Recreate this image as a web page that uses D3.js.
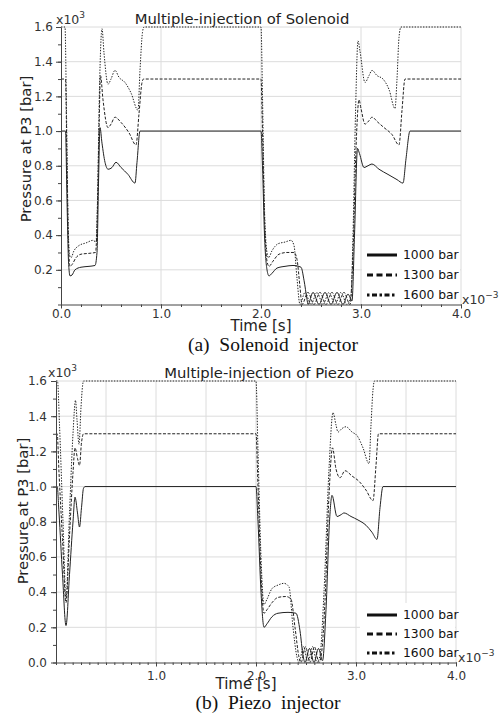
<!DOCTYPE html>
<meta charset="utf-8">
<style>
body { margin: 0; background: #fff; }
svg { display: block; font-family: "DejaVu Sans", sans-serif; }
.grid line { stroke: #dcdcdc; stroke-width: 1; }
.axis { color: #444; }
.axis text { font-size: 12px; fill: #333; font-family: "DejaVu Sans", sans-serif; }
.curve { fill: none; stroke: #222; stroke-width: 1; }
.title { font-size: 14.8px; fill: #222; }
.ytitle { font-size: 14.8px; fill: #222; }
.xtitle { font-size: 15px; fill: #222; }
.exp { font-size: 12.5px; fill: #333; }
.leg text { font-size: 12.3px; fill: #111; }
.cap { font-family: "Liberation Serif", serif; font-size: 19.5px; fill: #111; white-space: pre; }
</style>
<svg width="501" height="717"></svg>
<script src="https://d3js.org/d3.v7.min.js"></script>
<script>
// pressure (x10^3 bar) against time (x10^-3 s)
var sol1000 = [[0,1.0],[0.045,1.0],[0.06,0.6],[0.075,0.25],[0.09,0.165],[0.11,0.17],[0.14,0.2],[0.2,0.215],[0.28,0.22],[0.34,0.225],[0.36,0.3],[0.375,0.7],[0.39,1.02],[0.41,0.93],[0.44,0.82],[0.47,0.78],[0.51,0.79],[0.55,0.82],[0.6,0.79],[0.67,0.75],[0.74,0.70],[0.76,0.82],[0.79,1.0],
  [2.0,1.0],[2.015,0.8],[2.035,0.4],[2.06,0.2],[2.08,0.165],[2.11,0.18],[2.16,0.21],[2.24,0.22],[2.32,0.225],[2.4,0.215],[2.43,0.14],[2.46,0.03],[2.47,0.0],[2.52,0.07],[2.58,0.0],[2.64,0.07],[2.7,0.0],[2.76,0.07],[2.82,0.0],[2.87,0.06],[2.91,0.02],[2.935,0.4],[2.965,0.9],[2.985,0.87],[3.03,0.79],[3.07,0.8],[3.11,0.81],[3.18,0.78],[3.27,0.75],[3.36,0.72],[3.42,0.70],[3.45,0.84],[3.49,1.0],[4.0,1.0]];
var sol1300 = [[0,1.3],[0.045,1.3],[0.06,0.8],[0.075,0.35],[0.09,0.22],[0.11,0.23],[0.15,0.27],[0.2,0.29],[0.28,0.295],[0.345,0.30],[0.36,0.45],[0.38,1.0],[0.395,1.32],[0.42,1.18],[0.47,1.02],[0.5,1.04],[0.54,1.08],[0.6,1.05],[0.68,0.99],[0.75,0.92],[0.78,1.1],[0.81,1.28],[0.825,1.3],
  [2.0,1.3],[2.015,1.0],[2.035,0.5],[2.06,0.25],[2.08,0.22],[2.12,0.25],[2.18,0.29],[2.26,0.3],[2.33,0.3],[2.36,0.26],[2.39,0.1],[2.41,0.0],[2.47,0.07],[2.53,0.0],[2.59,0.07],[2.65,0.0],[2.71,0.07],[2.77,0.0],[2.83,0.07],[2.89,0.0],[2.92,0.3],[2.95,0.9],[2.98,1.18],[3.0,1.13],[3.04,1.04],[3.08,1.06],[3.11,1.08],[3.17,1.05],[3.23,1.02],[3.31,0.98],[3.38,0.92],[3.41,1.12],[3.44,1.3],[4.0,1.3]];
var sol1600 = [[0,1.6],[0.04,1.6],[0.055,1.1],[0.07,0.5],[0.085,0.29],[0.1,0.27],[0.13,0.31],[0.18,0.34],[0.25,0.355],[0.32,0.37],[0.35,0.36],[0.365,0.6],[0.385,1.25],[0.41,1.59],[0.43,1.45],[0.47,1.27],[0.5,1.3],[0.54,1.35],[0.58,1.31],[0.64,1.28],[0.7,1.22],[0.77,1.12],[0.79,1.35],[0.815,1.57],[0.83,1.6],
  [2.0,1.6],[2.015,1.2],[2.035,0.55],[2.06,0.3],[2.075,0.27],[2.11,0.31],[2.17,0.35],[2.24,0.36],[2.3,0.37],[2.33,0.34],[2.36,0.15],[2.39,0.0],[2.44,0.07],[2.5,0.0],[2.56,0.07],[2.62,0.0],[2.68,0.07],[2.74,0.0],[2.8,0.07],[2.86,0.0],[2.9,0.05],[2.92,0.4],[2.945,1.1],[2.97,1.52],[2.99,1.46],[3.04,1.28],[3.08,1.32],[3.11,1.35],[3.16,1.32],[3.22,1.3],[3.28,1.24],[3.34,1.13],[3.36,1.3],[3.38,1.54],[3.4,1.6],[4.0,1.6]];

var pz1000 = [[0,1.0],[0.012,1.0],[0.03,0.85],[0.065,0.5],[0.1,0.21],[0.135,0.5],[0.17,0.8],[0.19,0.94],[0.215,0.85],[0.235,0.77],[0.255,0.88],[0.275,0.99],[0.29,1.0],
  [2.0,1.0],[2.02,0.8],[2.05,0.4],[2.08,0.2],[2.11,0.22],[2.16,0.26],[2.22,0.28],[2.32,0.285],[2.4,0.28],[2.44,0.18],[2.47,0.04],[2.49,0.0],[2.535,0.08],[2.58,0.0],[2.625,0.08],[2.665,0.01],[2.7,0.3],[2.735,0.8],[2.76,0.95],[2.81,0.83],[2.85,0.84],[2.88,0.85],[2.95,0.83],[3.02,0.81],[3.1,0.78],[3.16,0.74],[3.21,0.70],[3.24,0.88],[3.27,1.0],[4.0,1.0]];
var pz1300 = [[0,1.3],[0.012,1.3],[0.03,1.08],[0.065,0.7],[0.1,0.34],[0.135,0.72],[0.17,1.08],[0.19,1.22],[0.215,1.16],[0.235,1.12],[0.255,1.25],[0.275,1.3],
  [2.0,1.3],[2.02,1.0],[2.05,0.5],[2.08,0.28],[2.11,0.3],[2.16,0.34],[2.22,0.37],[2.3,0.375],[2.35,0.36],[2.39,0.2],[2.43,0.03],[2.45,0.0],[2.495,0.09],[2.54,0.0],[2.585,0.09],[2.63,0.0],[2.655,0.05],[2.69,0.35],[2.73,0.95],[2.765,1.22],[2.8,1.1],[2.84,1.05],[2.89,1.09],[2.96,1.06],[3.03,1.03],[3.1,0.98],[3.17,0.92],[3.2,1.12],[3.225,1.3],[4.0,1.3]];
var pz1600 = [[0,1.6],[0.015,1.6],[0.035,1.35],[0.07,0.8],[0.1,0.36],[0.135,0.85],[0.17,1.3],[0.195,1.49],[0.21,1.38],[0.23,1.24],[0.25,1.45],[0.265,1.57],[0.275,1.6],
  [2.0,1.6],[2.02,1.2],[2.05,0.6],[2.08,0.33],[2.11,0.36],[2.16,0.42],[2.22,0.44],[2.28,0.45],[2.33,0.43],[2.37,0.2],[2.41,0.03],[2.43,0.0],[2.475,0.09],[2.52,0.0],[2.565,0.09],[2.61,0.0],[2.64,0.04],[2.68,0.4],[2.73,1.1],[2.77,1.42],[2.8,1.35],[2.82,1.31],[2.86,1.33],[2.9,1.34],[2.96,1.31],[3.01,1.29],[3.07,1.22],[3.13,1.13],[3.15,1.35],[3.17,1.55],[3.185,1.6],[4.0,1.6]];

var seriesNames = ["1000 bar", "1300 bar", "1600 bar"];
var solXTicks = [0, 1, 2, 3, 4];
var solYTicks = [0.2, 0.4, 0.6, 0.8, 1.0, 1.2, 1.4, 1.6];
var pzXTicks = [1, 2, 3, 4];
var pzYTicks = [0, 0.2, 0.4, 0.6, 0.8, 1.0, 1.2, 1.4, 1.6];
var yGridVals = [0.2, 0.4, 0.6, 0.8, 1.0, 1.2, 1.4, 1.6];
var solXGrid = [1, 2, 3, 4];
var pzXGrid = [0.5, 1, 1.5, 2, 2.5, 3, 3.5, 4];

var curveDash = [null, "3,1.6", "1.4,1.4"];
var legendDash = [null, "6,3.5", "2.5,2.5,5,2.5"];

var svg = d3.select("svg");

var panels = [
  {data: [sol1000, sol1300, sol1600], left: 61, right: 461, top: 27, bottom: 304.5,
   xTicks: solXTicks, yTicks: solYTicks, xGrid: solXGrid, xMinor: d3.range(0, 4.001, 0.2), xPad: 1, yPad: 3,
   title: "Multiple-injection of Solenoid", titleX: 242, titleY: 24,
   expX: 56, expY: 24, yTitleX: 31, yTitleY: 149, xExpX: 462, xExpY: 304,
   xTitleX: 261, xTitleY: 331, cap: "(a)  Solenoid  injector", capX: 273, capY: 351,
   legX: 367, legY: [255, 275, 295], legBox: [362, 242, 98, 61]},
  {data: [pz1000, pz1300, pz1600], left: 56, right: 456, top: 381, bottom: 662.5,
   xTicks: pzXTicks, yTicks: pzYTicks, xGrid: pzXGrid, xMinor: d3.range(0, 4.001, 1 / 12), xPad: 5, yPad: 4,
   title: "Multiple-injection of Piezo", titleX: 259, titleY: 378,
   expX: 48, expY: 377, yTitleX: 28, yTitleY: 511, xExpX: 458, xExpY: 662,
   xTitleX: 246, xTitleY: 689, cap: "(b)  Piezo  injector", capX: 268, capY: 709,
   legX: 367, legY: [615, 634, 653], legBox: [360, 603, 95, 58]}
];

panels.forEach(function(p) {
  var x = d3.scaleLinear().domain([0, 4]).range([p.left, p.right]),
      y = d3.scaleLinear().domain([0, 1.6]).range([p.bottom, p.top]);
  var g = svg.append("g");

  var grid = g.append("g").attr("class", "grid");
  grid.selectAll(".h").data(yGridVals).enter().append("line")
      .attr("x1", p.left).attr("x2", p.right)
      .attr("y1", function(d) { return y(d); }).attr("y2", function(d) { return y(d); });
  grid.selectAll(".v").data(p.xGrid).enter().append("line")
      .attr("y1", p.top).attr("y2", p.bottom)
      .attr("x1", function(d) { return x(d); }).attr("x2", function(d) { return x(d); });

  var line = d3.line()
      .x(function(d) { return x(d[0]); })
      .y(function(d) { return y(d[1]); })
      .curve(d3.curveMonotoneX);

  g.selectAll(".curve").data(p.data).enter().append("path")
      .attr("class", "curve")
      .attr("d", line)
      .attr("stroke-dasharray", function(d, i) { return curveDash[i]; });

  // minor ticks
  g.append("g").attr("class", "axis")
      .attr("transform", "translate(0," + p.bottom + ")")
      .call(d3.axisBottom(x).tickValues(p.xMinor).tickFormat("").tickSize(2.5).tickSizeOuter(0))
      .select(".domain").remove();
  g.append("g").attr("class", "axis")
      .attr("transform", "translate(" + p.left + ",0)")
      .call(d3.axisLeft(y).tickValues(d3.range(0, 1.601, 0.1)).tickFormat("").tickSize(3).tickSizeOuter(0))
      .select(".domain").remove();

  g.append("g").attr("class", "axis")
      .attr("transform", "translate(0," + p.bottom + ")")
      .call(d3.axisBottom(x).tickValues(p.xTicks).tickFormat(d3.format(".1f")).tickSize(4).tickSizeOuter(0).tickPadding(p.xPad));
  g.append("g").attr("class", "axis")
      .attr("transform", "translate(" + p.left + ",0)")
      .call(d3.axisLeft(y).tickValues(p.yTicks).tickFormat(d3.format(".1f")).tickSize(5).tickSizeOuter(0).tickPadding(p.yPad));

  // legend
  var lb = p.legBox;
  g.append("rect").attr("x", lb[0]).attr("y", lb[1]).attr("width", lb[2]).attr("height", lb[3]).attr("fill", "#fff");
  var leg = g.append("g").attr("class", "leg");
  seriesNames.forEach(function(name, i) {
    leg.append("line")
        .attr("x1", p.legX).attr("x2", p.legX + 30)
        .attr("y1", p.legY[i]).attr("y2", p.legY[i])
        .attr("stroke", "#111").attr("stroke-width", 3)
        .attr("stroke-dasharray", legendDash[i]);
    leg.append("text")
        .attr("x", p.legX + 36).attr("y", p.legY[i]).attr("dy", "0.36em")
        .text(name);
  });

  g.append("text").attr("class", "title")
      .attr("x", p.titleX).attr("y", p.titleY).attr("text-anchor", "middle")
      .text(p.title);

  var e1 = g.append("text").attr("class", "exp").attr("x", p.expX).attr("y", p.expY).text("x10");
  e1.append("tspan").attr("dy", -6).attr("font-size", "9px").text("3");

  var e2 = g.append("text").attr("class", "exp").attr("x", p.xExpX).attr("y", p.xExpY).text("x10");
  e2.append("tspan").attr("dy", -6).attr("font-size", "9px").text("\u22123");

  g.append("text").attr("class", "ytitle")
      .attr("transform", "translate(" + p.yTitleX + "," + p.yTitleY + ") rotate(-90)")
      .attr("text-anchor", "middle")
      .text("Pressure at P3 [bar]");

  g.append("text").attr("class", "xtitle")
      .attr("x", p.xTitleX).attr("y", p.xTitleY).attr("text-anchor", "middle")
      .text("Time [s]");

  g.append("text").attr("class", "cap")
      .attr("x", p.capX).attr("y", p.capY).attr("text-anchor", "middle")
      .text(p.cap);
});
</script>
